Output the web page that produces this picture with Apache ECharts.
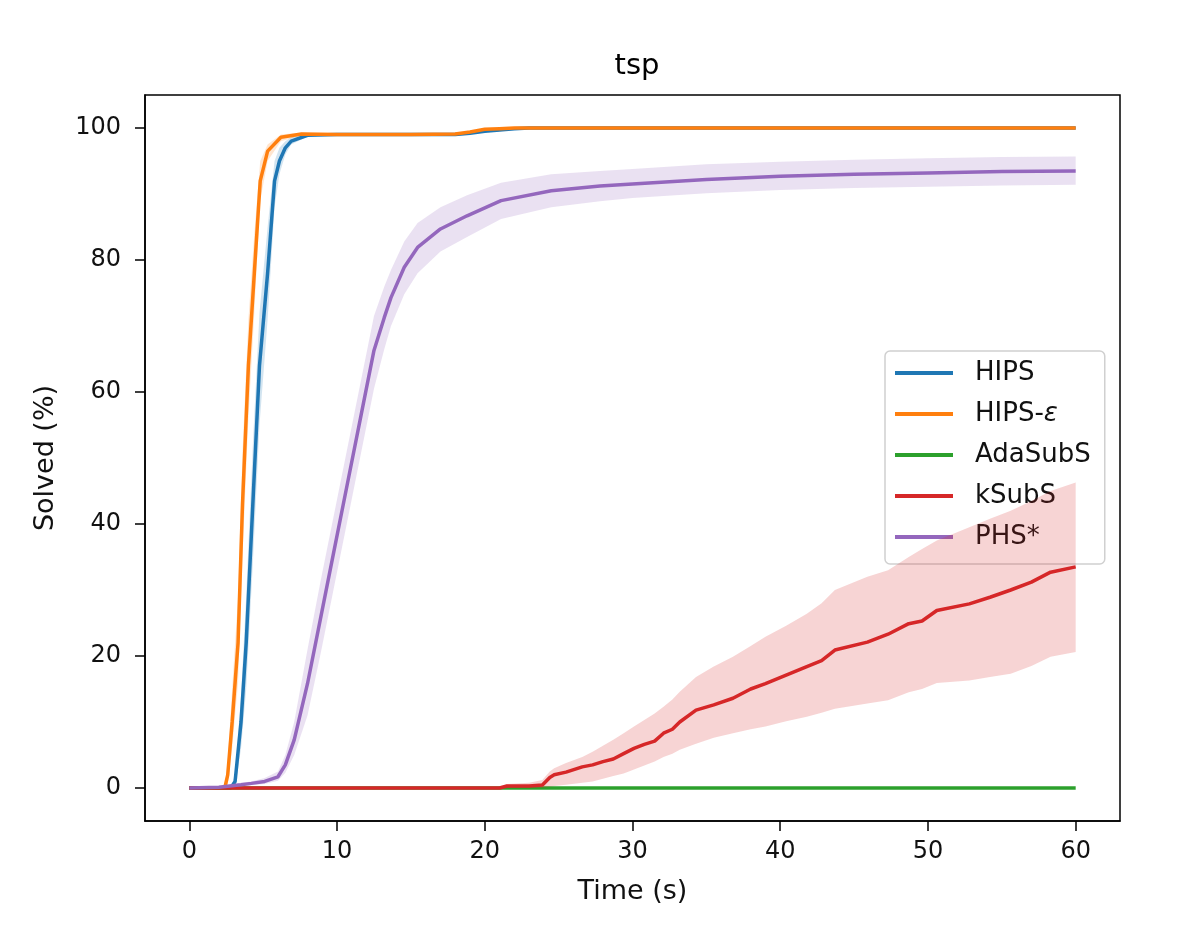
<!DOCTYPE html>
<html>
<head>
<meta charset="utf-8">
<title>tsp</title>
<script src="https://cdn.jsdelivr.net/npm/echarts@6/dist/echarts.min.js"></script>
<style>
	html, body { margin: 0; padding: 0; background: #fff; }
	#chart { width: 1196px; height: 925px; }
</style>
</head>
<body>
<div id="chart"></div>
<script>
// tick labels
var xTicks = [0, 10, 20, 30, 40, 50, 60];
var yTicks = [0, 20, 40, 60, 80, 100];

// HIPS
var hipsT  = [0, 2.8, 3.1, 3.5, 3.85, 4.3, 4.75, 5.3, 5.77, 6.1, 6.5, 6.9, 8.0, 10, 15, 18, 19, 20, 21, 22, 23, 30, 40, 50, 60];
var hipsY  = [0, 0, 1, 10, 22, 43, 64, 78, 92, 95, 97, 98, 98.9, 99, 99, 99, 99.2, 99.5, 99.7, 99.9, 100, 100, 100, 100, 100];
var hipsLo = [0, 0, 0, 6, 15, 34, 55, 71, 88, 93, 96, 97.5, 98.7, 99, 99, 99, 99.1, 99.3, 99.5, 99.8, 100, 100, 100, 100, 100];
var hipsHi = [0, 0, 2, 14, 29, 52, 72, 85, 95, 97, 98, 98.6, 99.1, 99, 99, 99, 99.3, 99.7, 99.9, 100, 100, 100, 100, 100, 100];

// HIPS-ε
var epsT  = [0, 2.4, 2.6, 2.9, 3.3, 3.6, 4.0, 4.4, 4.8, 5.3, 6.2, 7.6, 10, 15, 18, 19, 20, 21, 22, 30, 40, 50, 60];
var epsY  = [0, 0, 2, 10, 22, 43, 64, 78, 92, 96.5, 98.6, 99.1, 99, 99, 99.1, 99.4, 99.8, 99.9, 100, 100, 100, 100, 100];
var epsLo = [0, 0, 0.5, 6, 16, 35, 56, 72, 89, 95, 98, 98.9, 99, 99, 99, 99.2, 99.6, 99.8, 100, 100, 100, 100, 100];
var epsHi = [0, 0, 4, 15, 29, 51, 71, 84, 95, 97.5, 99, 99.3, 99, 99, 99.2, 99.6, 99.9, 100, 100, 100, 100, 100, 100];

// AdaSubS
var adaT = [0, 60];
var adaY = [0, 0];

// kSubS
var ksT  = [0, 10, 21, 21.5, 23, 23.9, 24.4, 24.7, 25.5, 26.6, 27.3, 28, 28.7, 29.4, 30.1, 30.8, 31.5, 32.1, 32.7, 33.2, 34.3, 35.5, 36.8, 38, 39.0, 40.4, 41.8, 42.8, 43.7, 45.9, 47.3, 48.7, 49.6, 50.6, 52.8, 54.2, 55.6, 57, 58.3, 60];
var ksY  = [0, 0, 0, 0.3, 0.3, 0.45, 1.6, 2.0, 2.4, 3.2, 3.5, 4.0, 4.4, 5.2, 6.0, 6.6, 7.1, 8.3, 8.9, 10.0, 11.8, 12.6, 13.6, 15.0, 15.8, 17.1, 18.4, 19.3, 20.9, 22.1, 23.3, 24.9, 25.3, 26.9, 27.9, 28.9, 30.0, 31.2, 32.7, 33.5];
var ksLo = [0, 0, 0, 0, 0, 0, 0.2, 0.3, 0.5, 0.8, 1.0, 1.4, 1.8, 2.2, 2.8, 3.4, 4.0, 4.7, 5.2, 5.8, 6.7, 7.6, 8.3, 8.9, 9.3, 10.1, 10.8, 11.4, 12.0, 12.8, 13.3, 14.5, 15.0, 15.9, 16.3, 16.8, 17.3, 18.5, 19.9, 20.6];
var ksHi = [0, 0, 0, 0.6, 0.8, 1.2, 2.5, 3.0, 3.8, 4.7, 5.5, 6.4, 7.3, 8.3, 9.3, 10.3, 11.3, 12.3, 13.4, 14.6, 16.8, 18.4, 19.9, 21.5, 22.9, 24.6, 26.4, 28.0, 30.0, 32.0, 33.0, 35.0, 36.2, 37.5, 39.5, 40.8, 42.0, 43.5, 45.0, 46.3];

// PHS*
var phsT  = [0, 2, 3.5, 4.2, 5.1, 6.0, 6.5, 7.1, 8.0, 8.9, 9.8, 10.7, 11.6, 12.5, 13.2, 13.65, 14.55, 15.45, 17.0, 18.8, 21.1, 24.5, 27.8, 30, 35, 40, 45, 50, 55, 60];
var phsY  = [0, 0.1, 0.5, 0.7, 1.0, 1.7, 3.5, 7.3, 15.8, 25.9, 36, 46.1, 56.2, 66.3, 71.3, 74.3, 78.9, 81.9, 84.7, 86.7, 89.0, 90.5, 91.2, 91.5, 92.2, 92.7, 93, 93.2, 93.4, 93.5];
var phsLo = [0, 0, 0.3, 0.4, 0.6, 1.1, 2.3, 5, 11, 20.5, 30.5, 40.5, 50.5, 60.5, 66.5, 70, 74.8, 78, 81.3, 83.5, 86.2, 88, 88.9, 89.4, 90.1, 90.6, 90.9, 91.1, 91.3, 91.4];
var phsHi = [0, 0.3, 0.8, 1.0, 1.5, 2.5, 5, 10, 21, 31.5, 41.5, 51.5, 61.5, 71.5, 76, 78.5, 82.8, 85.6, 88.0, 89.8, 91.7, 93.0, 93.5, 93.8, 94.5, 94.9, 95.2, 95.4, 95.6, 95.7];

var names  = ['HIPS', 'HIPS-ε', 'AdaSubS', 'kSubS', 'PHS*'];
var colors = ['#1f77b4', '#ff7f0e', '#2ca02c', '#d62728', '#9467bd'];
var fills  = ['rgba(31,119,180,0.2)', 'rgba(255,127,14,0.2)', 'rgba(44,160,44,0.2)', 'rgba(214,39,40,0.2)', 'rgba(148,103,189,0.2)'];
var FONT = 'DejaVu Sans';

//拼成 [x, y] 点
function pairs(t, y) {
	var out = [];
	for(var i = 0; i < t.length; i++) {
		out.push([t[i], y[i]]);
	}
	return out;
}

//标准差阴影带，用坐标轴换算多边形
function band(t, lo, hi, fill, z) {
	return {
		type: 'custom',
		name: 'band',
		silent: true,
		z: z,
		clip: true,
		data: [[t[0], lo[0]]],
		renderItem: function(params, api) {
			var pts = [];
			for(var i = 0; i < t.length; i++) {
				pts.push(api.coord([t[i], hi[i]]));
			}
			for(var j = t.length - 1; j >= 0; j--) {
				pts.push(api.coord([t[j], lo[j]]));
			}
			return {
				type: 'polygon',
				shape: { points: pts },
				style: { fill: fill }
			};
		}
	};
}

function line(idx, t, y, z) {
	return {
		type: 'line',
		name: names[idx],
		data: pairs(t, y),
		showSymbol: false,
		symbol: 'none',
		z: z,
		color: colors[idx],
		lineStyle: { color: colors[idx], width: 3.5 }
	};
}

var series = [
	band(hipsT, hipsLo, hipsHi, fills[0], 1),
	line(0, hipsT, hipsY, 2),
	band(epsT, epsLo, epsHi, fills[1], 3),
	line(1, epsT, epsY, 4),
	line(2, adaT, adaY, 5),
	band(ksT, ksLo, ksHi, fills[3], 6),
	line(3, ksT, ksY, 7),
	band(phsT, phsLo, phsHi, fills[4], 8),
	line(4, phsT, phsY, 9)
];

var myChart = echarts.init(document.getElementById('chart'));

var option = {
	animation: false,
	backgroundColor: '#fff',
	textStyle: { fontFamily: FONT },
	title: {
		text: 'tsp',
		left: 632,
		top: 47,
		textAlign: 'center',
		textStyle: { fontFamily: FONT, fontSize: 29, fontWeight: 'normal', color: '#000' }
	},
	grid: {
		left: 145,
		right: 76,
		top: 95,
		bottom: 104,
		show: true,
		borderColor: '#000',
		borderWidth: 1.5,
		backgroundColor: 'transparent'
	},
	legend: {
		data: names,
		orient: 'vertical',
		left: 885,
		top: 351,
		icon: 'rect',
		itemWidth: 58,
		itemHeight: 4,
		itemGap: 15,
		padding: [9, 14, 14, 10],
		backgroundColor: 'rgba(255,255,255,0.8)',
		borderColor: '#d0d0d0',
		borderWidth: 1.5,
		borderRadius: 5,
		selectedMode: false,
		formatter: function(name) {
			if(name == 'HIPS-ε') {
				return '{n|HIPS-}{e|ε}';
			}
			return '{n|' + name + '}';
		},
		textStyle: {
			fontFamily: FONT,
			fontSize: 26,
			color: '#111',
			lineHeight: 26,
			padding: [0, 0, 0, 17],
			rich: {
				n: { fontFamily: FONT, fontSize: 26, color: '#111' },
				e: { fontFamily: FONT, fontSize: 26, fontStyle: 'italic', color: '#111' }
			}
		}
	},
	xAxis: {
		type: 'value',
		min: -3,
		max: 63,
		name: 'Time (s)',
		nameLocation: 'middle',
		nameGap: 57,
		nameTextStyle: { fontFamily: FONT, fontSize: 27, color: '#111' },
		splitLine: { show: false },
		axisLine: { show: true, onZero: false, lineStyle: { color: '#000', width: 1.5 } },
		axisTick: { show: true, length: 10, customValues: xTicks, lineStyle: { color: '#000', width: 1.5 } },
		axisLabel: { customValues: xTicks, fontFamily: FONT, fontSize: 24, color: '#111', margin: 19 }
	},
	yAxis: {
		type: 'value',
		min: -5,
		max: 105,
		name: 'Solved (%)',
		nameLocation: 'middle',
		nameGap: 86,
		nameTextStyle: { fontFamily: FONT, fontSize: 27, color: '#111' },
		splitLine: { show: false },
		axisLine: { show: true, onZero: false, lineStyle: { color: '#000', width: 1.5 } },
		axisTick: { show: true, length: 10, customValues: yTicks, lineStyle: { color: '#000', width: 1.5 } },
		axisLabel: { customValues: yTicks, fontFamily: FONT, fontSize: 24, color: '#111', margin: 24 }
	},
	series: series
};

myChart.setOption(option);
</script>
</body>
</html>
